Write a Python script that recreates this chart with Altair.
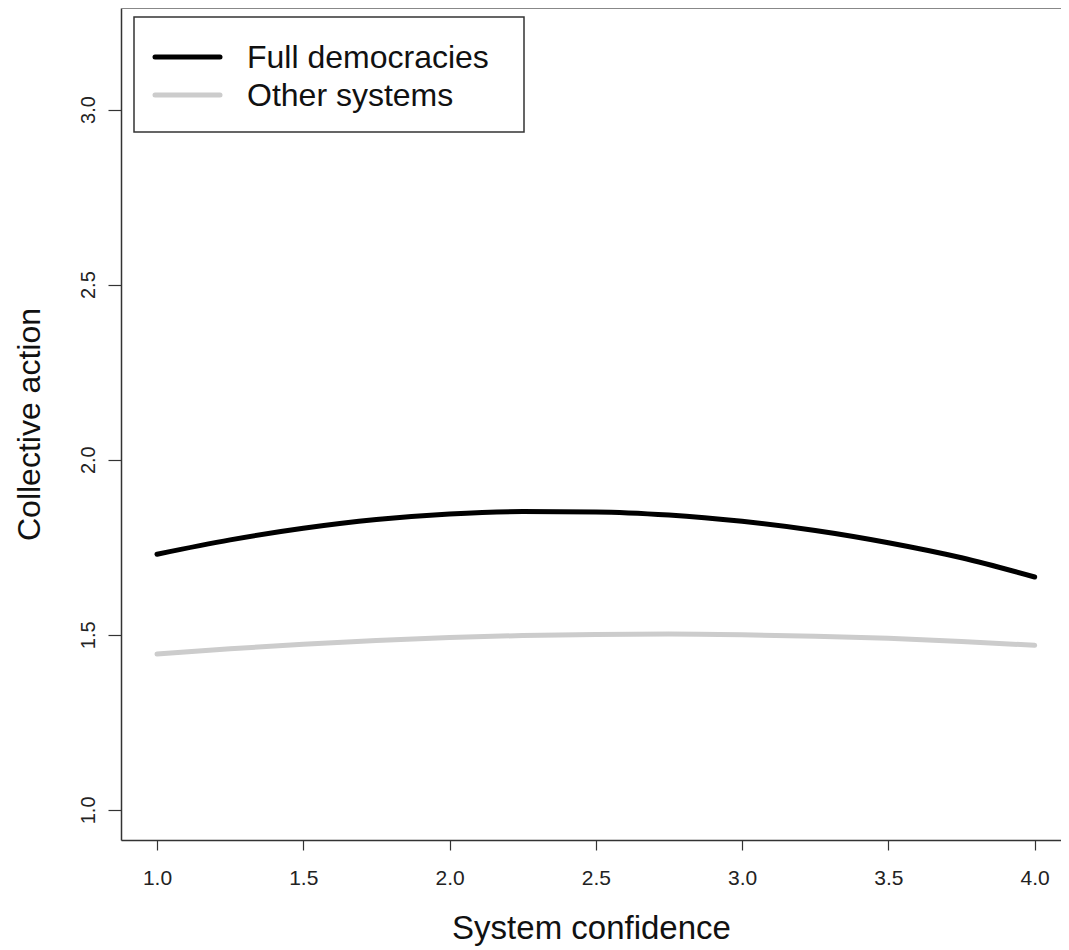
import altair as alt
import pandas as pd

confidence = [1.0, 1.25, 1.5, 1.75, 2.0, 2.25, 2.5, 2.75, 3.0, 3.25, 3.5, 3.75, 4.0]
full_dem = [1.730, 1.771, 1.804, 1.829, 1.845, 1.852, 1.851, 1.842, 1.824, 1.798, 1.763, 1.720, 1.665]
other_sys = [1.445, 1.460, 1.473, 1.484, 1.492, 1.498, 1.501, 1.502, 1.500, 1.496, 1.490, 1.481, 1.470]
series_names = ["Full democracies", "Other systems"]
series_colors = ["#000000", "#cccccc"]
x_ticks = [1.0, 1.5, 2.0, 2.5, 3.0, 3.5, 4.0]
y_ticks = [1.0, 1.5, 2.0, 2.5, 3.0]

rows = []
for i, x in enumerate(confidence):
    rows.append({"x": x, "y": full_dem[i], "group": series_names[0], "ord": i})
    rows.append({"x": x, "y": other_sys[i], "group": series_names[1], "ord": i})
df = pd.DataFrame(rows)

FONT = "Liberation Sans"

lines = alt.Chart(df).mark_line(strokeWidth=5, strokeCap="round", interpolate="monotone").encode(
    x=alt.X("x:Q", scale=alt.Scale(domain=[0.877, 4.09], nice=False, zero=False),
            axis=alt.Axis(values=x_ticks, format=".1f", title="System confidence",
                          grid=False, tickSize=10, labelPadding=17, labelFontSize=21,
                          titleFontSize=33, titlePadding=24, domainColor="#333333",
                          domainWidth=1.5, tickWidth=1.2,
                          tickColor="#333333", labelColor="#222222", titleColor="#111111",
                          titleFontWeight="normal", labelFont=FONT, titleFont=FONT)),
    y=alt.Y("y:Q", scale=alt.Scale(domain=[0.914, 3.29], nice=False, zero=False),
            axis=alt.Axis(values=y_ticks, format=".1f", title="Collective action",
                          grid=False, tickSize=13, labelPadding=10, labelFontSize=20,
                          labelAngle=270, labelAlign="center", labelBaseline="bottom",
                          titleFontSize=32, titlePadding=32, domainColor="#333333",
                          domainWidth=1.5, tickWidth=1.2,
                          tickColor="#333333", labelColor="#222222", titleColor="#111111",
                          titleFontWeight="normal", labelFont=FONT, titleFont=FONT)),
    color=alt.Color("group:N", scale=alt.Scale(domain=series_names, range=series_colors),
                    legend=None),
    order="ord:Q",
)

one = pd.DataFrame({"k": [0]})
top_border = alt.Chart(one).mark_rule(strokeWidth=2, color="#888888").encode(
    x=alt.value(0), x2=alt.value(940), y=alt.value(0))
leg_box = alt.Chart(one).mark_rect(fill="#ffffff", stroke="#333333", strokeWidth=1.5).encode(
    x=alt.value(13), x2=alt.value(403), y=alt.value(9), y2=alt.value(124))
leg_line1 = alt.Chart(one).mark_rule(strokeWidth=5, color=series_colors[0], strokeCap="round").encode(
    x=alt.value(34), x2=alt.value(99), y=alt.value(49))
leg_line2 = alt.Chart(one).mark_rule(strokeWidth=5, color=series_colors[1], strokeCap="round").encode(
    x=alt.value(34), x2=alt.value(99), y=alt.value(87))
leg_text1 = alt.Chart(one).mark_text(align="left", baseline="middle", fontSize=32, font=FONT,
                                     color="#111111", text=series_names[0]).encode(
    x=alt.value(126), y=alt.value(50))
leg_text2 = alt.Chart(one).mark_text(align="left", baseline="middle", fontSize=32, font=FONT,
                                     color="#111111", text=series_names[1]).encode(
    x=alt.value(126), y=alt.value(88))

chart = alt.layer(top_border, lines, leg_box, leg_line1, leg_line2, leg_text1, leg_text2).properties(
    width=940, height=832,
    autosize=alt.AutoSizeParams(type="none"),
    padding={"left": 113, "top": 0, "right": 0, "bottom": 110},
).configure_view(strokeWidth=0).configure(background="#ffffff")

chart.save("out.html", embed_options={"renderer": "svg", "actions": False})
